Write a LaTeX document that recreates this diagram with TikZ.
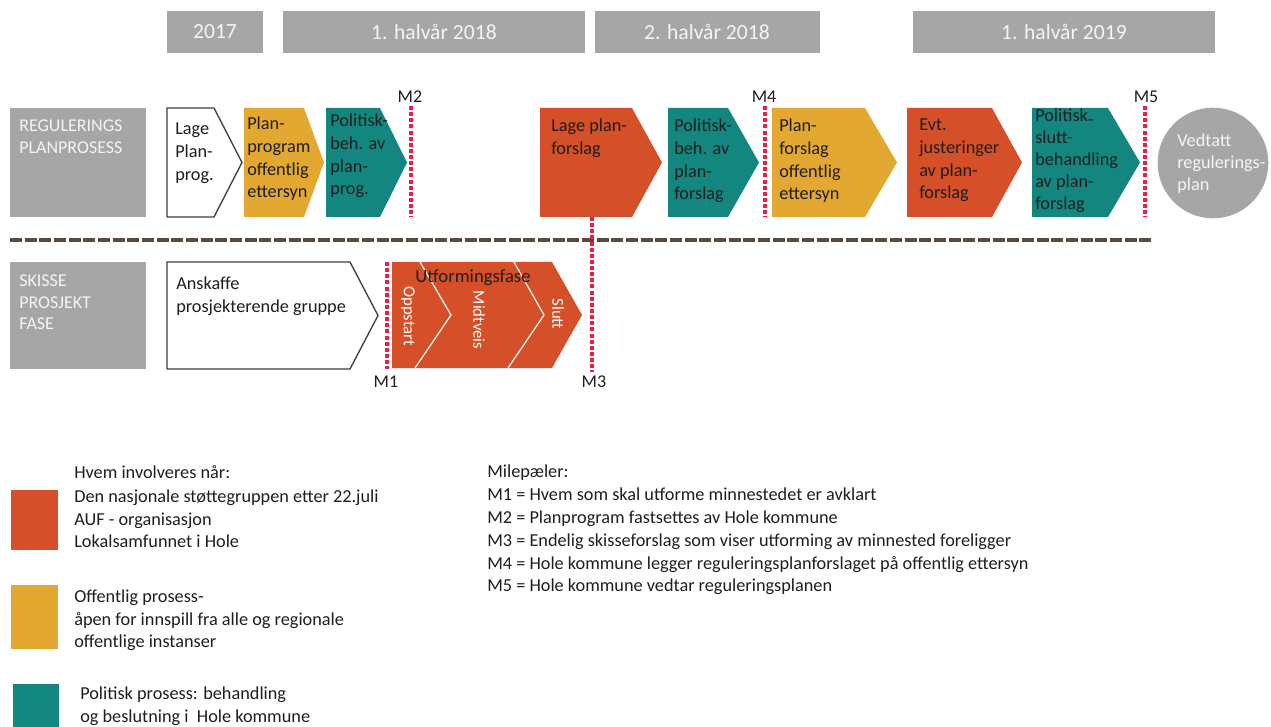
\documentclass[tikz,border=0pt]{standalone}
\usepackage{fontspec}
\setmainfont{Carlito}
\definecolor{cgray}{HTML}{A6A6A6}
\definecolor{corange}{HTML}{D54F29}
\definecolor{cyellow}{HTML}{E2A832}
\definecolor{cteal}{HTML}{13877F}
\definecolor{cred}{HTML}{EA1F48}
\definecolor{cbrown}{HTML}{5A4A3C}
\definecolor{ctext}{HTML}{1E1E1E}
\definecolor{clight}{HTML}{F4F4F4}
\newcommand\mychev[6]{\path[#6] (#1,#4) -- (#2,#4) -- (#3,{(#4+#5)/2}) -- (#2,#5) -- (#1,#5) -- cycle;}
\tikzset{
  hdrtxt/.style={text=clight,font=\fontsize{16.2}{19}\selectfont,inner sep=0},
  lbltxt/.style={text=clight,font=\fontsize{13.5}{16}\selectfont,anchor=north west,align=left,inner sep=0},
  chtxt/.style={text=ctext,font=\fontsize{13.7}{17}\selectfont,anchor=north west,align=left,inner sep=0},
  mtxt/.style={text=ctext,font=\fontsize{13.5}{16}\selectfont,inner sep=0},
  legtxt/.style={text=ctext,font=\fontsize{13.7}{16.7}\selectfont,anchor=north west,align=left,inner sep=0},
  rottxt/.style={text=white,font=\fontsize{12.5}{14}\selectfont,inner sep=0,rotate=-90},
  mline/.style={draw=cred,line width=3pt,dash pattern=on 3pt off 1.6pt},
  whitech/.style={draw=black!75,line width=1pt,fill=white},
}
\begin{document}
\begin{tikzpicture}[x=0.75pt,y=-0.75pt]
\useasboundingbox (0,0) rectangle (1271,727);
% header
\fill[cgray] (167,11) rectangle (263,53);
\node[hdrtxt] (h1) at (215,32) {2017};
\fill[cgray] (283,11) rectangle (585,53);
\node[hdrtxt] (h2) at (434,32) {1. halvår 2018};
\fill[cgray] (595,11) rectangle (820,53);
\node[hdrtxt] (h3) at (707,32) {2. halvår 2018};
\fill[cgray] (913,11) rectangle (1215,53);
\node[hdrtxt] (h4) at (1064,32) {1. halvår 2019};
% row labels
\fill[cgray] (10,108) rectangle (146,217);
\node[lbltxt] (l1) at (19,120) {REGULERINGS\\PLANPROSESS};
\fill[cgray] (10,262) rectangle (146,369);
\node[lbltxt] (l2) at (19,275) {SKISSE\\PROSJEKT\\FASE};
% regulering row
\mychev{167}{214}{242}{108}{217}{whitech}
\node[chtxt] (r1) at (175,123) {Lage\\Plan-\\prog.};
\mychev{244}{304}{324}{108}{217}{fill=cyellow}
\node[chtxt] (r2) at (247,117) {Plan-\\program\\offentlig\\ettersyn};
\mychev{326}{380}{407}{108}{217}{fill=cteal}
\node[chtxt] (r3) at (330,114) {Politisk-\\beh. av\\plan-\\prog.};
\mychev{540}{632}{662}{108}{217}{fill=corange}
\node[chtxt] (r4) at (551,119) {Lage plan-\\forslag};
\mychev{668}{728}{759}{108}{217}{fill=cteal}
\node[chtxt] (r5) at (674,119) {Politisk-\\beh. av\\plan-\\forslag};
\mychev{772}{865}{897}{108}{217}{fill=cyellow}
\node[chtxt] (r6) at (779,119) {Plan-\\forslag\\offentlig\\ettersyn};
\mychev{907}{992}{1022}{108}{217}{fill=corange}
\node[chtxt] (r7) at (919,119) {Evt.\\justeringer\\av plan-\\forslag};
\mychev{1032}{1108}{1140}{108}{217}{fill=cteal}
\node[chtxt,font=\fontsize{13.7}{16.4}\selectfont] (r8) at (1035,109) {Politisk\raisebox{-0.35ex}{-}\\slutt-\\behandling\\av plan-\\forslag};
\fill[cgray] (1213,163) circle[radius=41.5pt];
\node[legtxt,text=clight,font=\fontsize{13.7}{16.5}\selectfont] (vedt) at (1177,134) {Vedtatt\\regulerings-\\plan};
% milestones top
\coordinate (m2t) at (411,106); \coordinate (m2b) at (411,217);
\draw[mline] (m2t) -- (m2b);
\node[mtxt] (m2) at (410,97) {M2};
\coordinate (m4t) at (765,106); \coordinate (m4b) at (765,217);
\draw[mline] (m4t) -- (m4b);
\node[mtxt] (m4) at (764,97) {M4};
\coordinate (m5t) at (1145,106); \coordinate (m5b) at (1145,217);
\draw[mline] (m5t) -- (m5b);
\node[mtxt] (m5) at (1146,97) {M5};
% separator
\coordinate (sepl) at (10,240); \coordinate (sepr) at (1152,240);
\draw[cbrown,line width=3.6pt,dash pattern=on 9pt off 2pt] (sepl) -- (sepr);
% skisse row
\mychev{167}{350}{378}{262}{369}{whitech}
\node[chtxt] (s1) at (176,277) {Anskaffe\\prosjekterende gruppe};
\mychev{392}{552}{582}{262}{368}{fill=corange}
\draw[white,line width=0.9pt] (420,262) -- (451,315) -- (415,368);
\draw[white,line width=0.9pt] (514,262) -- (544,315) -- (508,368);
\node[mtxt,font=\fontsize{14}{16}\selectfont] (utf) at (473,278) {Utformingsfase};
\node[rottxt] (opp) at (408,316) {Oppstart};
\node[rottxt] (mid) at (479,320) {Midtveis};
\node[rottxt] (slu) at (558,314) {Slutt};
\coordinate (m1t) at (387,262); \coordinate (m1b) at (387,369);
\draw[mline] (m1t) -- (m1b);
\node[mtxt] (m1) at (386,382) {M1};
\coordinate (m3t) at (592,217); \coordinate (m3b) at (592,372);
\draw[mline] (m3t) -- (m3b);
\node[mtxt] (m3) at (594,382) {M3};
% legend
\node[legtxt] (lgh) at (74,465) {Hvem involveres når:};
\fill[corange] (11,490) rectangle (58,550);
\node[legtxt] (lg1) at (74,490) {Den nasjonale støttegruppen etter 22.juli\\AUF - organisasjon\\Lokalsamfunnet i Hole};
\fill[cyellow] (11,585) rectangle (58,649);
\node[legtxt] (lg2) at (74,590) {Offentlig prosess-\\åpen for innspill fra alle og regionale\\offentlige instanser};
\fill[cteal] (13,684) rectangle (59,727);
\node[legtxt] (lg3) at (80,687) {Politisk prosess: behandling\\og beslutning i~ Hole kommune};
% milestones legend
\node[legtxt,font=\fontsize{13.7}{17.1}\selectfont] (ms) at (487,465) {Milepæler:\\M1 = Hvem som skal utforme minnestedet er avklart\\M2 = Planprogram fastsettes av Hole kommune\\M3 = Endelig skisseforslag som viser utforming av minnested foreligger\\M4 = Hole kommune legger reguleringsplanforslaget på offentlig ettersyn\\M5 = Hole kommune vedtar reguleringsplanen};
\end{tikzpicture}
\end{document}
